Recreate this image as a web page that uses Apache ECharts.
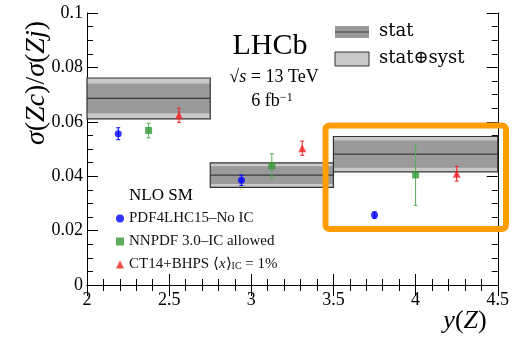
<!DOCTYPE html>
<html><head><meta charset="utf-8">
<script src="https://cdn.jsdelivr.net/npm/echarts@6/dist/echarts.min.js"></script>
<style>html,body{margin:0;padding:0;background:#fff}#c{width:512px;height:338px}</style>
</head><body><div id="c"></div>
<script>
// Measured ratio bins
const binLo = [2.0, 2.75, 3.5];
const binHi = [2.75, 3.5, 4.5];
const central = [0.0686, 0.0404, 0.0481];
const statErr = [0.0055, 0.0033, 0.0050];
const totErr = [0.0075, 0.0045, 0.0065];

// NLO SM predictions
const modelNames = ['PDF4LHC15–No IC', 'NNPDF 3.0–IC allowed', 'CT14+BHPS'];
const pdfX = [2.19, 2.94, 3.75];
const pdfY = [0.0556, 0.0385, 0.0257];
const pdfE = [0.0022, 0.0019, 0.0012];
const nnX = [2.375, 3.125, 4.0];
const nnY = [0.0568, 0.0438, 0.0405];
const nnE = [0.0027, 0.0044, 0.0112];
const ctX = [2.56, 3.31, 4.25];
const ctY = [0.0624, 0.0503, 0.0409];
const ctE = [0.0026, 0.0026, 0.0027];

const xTicks = [2, 2.5, 3, 3.5, 4, 4.5];
const yTicks = [0, 0.02, 0.04, 0.06, 0.08, 0.1];

const SERIF = 'Liberation Serif';
const chart = echarts.init(document.getElementById('c'), null, {renderer: 'canvas'});

function boxItem(params, api) {
  const lo = api.value(0), hi = api.value(1), c = api.value(2), s = api.value(3), t = api.value(4);
  const p1 = api.coord([lo, c + t]), p2 = api.coord([hi, c - t]);
  const q1 = api.coord([lo, c + s]), q2 = api.coord([hi, c - s]);
  const m1 = api.coord([lo, c]), m2 = api.coord([hi, c]);
  return {type: 'group', children: [
    {type: 'rect', shape: {x: p1[0], y: p1[1], width: p2[0] - p1[0], height: p2[1] - p1[1]}, style: {fill: '#c9c9c9', stroke: null}},
    {type: 'rect', shape: {x: q1[0], y: q1[1], width: q2[0] - q1[0], height: q2[1] - q1[1]}, style: {fill: '#9a9a9a', stroke: null}},
    {type: 'line', shape: {x1: m1[0], y1: m1[1], x2: m2[0], y2: m2[1]}, style: {stroke: '#3a3a3a', lineWidth: 1.2}},
    {type: 'rect', shape: {x: p1[0], y: p1[1], width: p2[0] - p1[0], height: p2[1] - p1[1]}, style: {fill: 'none', stroke: '#333', lineWidth: 1.2}}
  ]};
}
function errItem(color) {
  return function (params, api) {
    const x = api.value(0), y = api.value(1), e = api.value(2);
    const a = api.coord([x, y + e]), b = api.coord([x, y - e]);
    return {type: 'group', children: [
      {type: 'line', shape: {x1: a[0], y1: a[1], x2: b[0], y2: b[1]}, style: {stroke: color, lineWidth: 1}},
      {type: 'line', shape: {x1: a[0] - 2, y1: a[1], x2: a[0] + 2, y2: a[1]}, style: {stroke: color, lineWidth: 1}},
      {type: 'line', shape: {x1: b[0] - 2, y1: b[1], x2: b[0] + 2, y2: b[1]}, style: {stroke: color, lineWidth: 1}}
    ]};
  };
}
const zip3 = (a, b, c) => a.map((v, i) => [v, b[i], c[i]]);

const axisLine = {show: true, lineStyle: {color: '#000', width: 1}};
const axisTick = {show: true, inside: true, length: 11, lineStyle: {color: '#000', width: 1}};

const colors = ['#0000ff', '#339933', '#ee2222'];

chart.setOption({
  animation: false,
  grid: {left: 87, right: 11, top: 13, bottom: 53, containLabel: false},
  xAxis: [
    {type: 'value', min: 2, max: 4.5, interval: 0.5, position: 'bottom',
      axisLine: axisLine, axisTick: axisTick, splitLine: {show: false},
      minorTick: {show: true, splitNumber: 5, length: 6, lineStyle: {color: '#000'}},
      axisLabel: {show: true, margin: 6, color: '#000', fontFamily: SERIF, fontSize: 18,
        formatter: v => xTicks.indexOf(+v.toFixed(2)) >= 0 ? String(+v.toFixed(2)) : ''}},
    {type: 'value', min: 2, max: 4.5, interval: 0.5, position: 'top',
      axisLine: axisLine, axisTick: axisTick, splitLine: {show: false},
      minorTick: {show: true, splitNumber: 5, length: 6, lineStyle: {color: '#000'}},
      axisLabel: {show: false}}
  ],
  yAxis: [
    {type: 'value', min: 0, max: 0.1, interval: 0.02, position: 'left',
      axisLine: axisLine, axisTick: axisTick, splitLine: {show: false},
      minorTick: {show: true, splitNumber: 4, length: 6, lineStyle: {color: '#000'}},
      axisLabel: {show: true, margin: 4, color: '#000', fontFamily: SERIF, fontSize: 18,
        formatter: v => {const r = +v.toFixed(3); return yTicks.indexOf(r) >= 0 ? String(r) : '';}}},
    {type: 'value', min: 0, max: 0.1, interval: 0.02, position: 'right',
      axisLine: axisLine, axisTick: axisTick, splitLine: {show: false},
      minorTick: {show: true, splitNumber: 4, length: 6, lineStyle: {color: '#000'}},
      axisLabel: {show: false}}
  ],
  legend: {
    data: modelNames,
    orient: 'vertical', left: 111, top: 206, itemGap: 8, itemWidth: 8, itemHeight: 8,
    textStyle: {fontFamily: SERIF, fontSize: 15, color: '#111', lineHeight: 14,
      rich: {
        n: {fontFamily: SERIF, fontSize: 15, color: '#111'},
        i: {fontFamily: SERIF, fontSize: 15, fontStyle: 'italic', color: '#111'},
        s: {fontFamily: SERIF, fontSize: 10, color: '#111', verticalAlign: 'bottom', padding: [6, 0, 0, 0]}
      }},
    formatter: name => name === 'CT14+BHPS' ? '{n|CT14+BHPS ⟨}{i|x}{n|⟩}{s|IC}{n| = 1%}' : name,
    selectedMode: false
  },
  series: [
    {type: 'custom', name: 'boxes', renderItem: boxItem, encode: {x: [0, 1], y: [2]}, z: 1,
      data: binLo.map((lo, i) => [lo, binHi[i], central[i], statErr[i], totErr[i]])},
    {type: 'custom', name: 'e0', renderItem: errItem(colors[0]), encode: {x: 0, y: 1}, z: 3, data: zip3(pdfX, pdfY, pdfE)},
    {type: 'custom', name: 'e1', renderItem: errItem('#55aa55'), encode: {x: 0, y: 1}, z: 3, data: zip3(nnX, nnY, nnE)},
    {type: 'custom', name: 'e2', renderItem: errItem(colors[2]), encode: {x: 0, y: 1}, z: 3, data: zip3(ctX, ctY, ctE)},
    {type: 'scatter', name: modelNames[0], symbol: 'circle', symbolSize: 7, itemStyle: {color: colors[0]}, z: 4,
      data: pdfX.map((x, i) => [x, pdfY[i]])},
    {type: 'scatter', name: modelNames[1], symbol: 'rect', symbolSize: 7, itemStyle: {color: colors[1]}, z: 4,
      data: nnX.map((x, i) => [x, nnY[i]])},
    {type: 'scatter', name: modelNames[2], symbol: 'triangle', symbolSize: 8, itemStyle: {color: colors[2]}, z: 4,
      data: ctX.map((x, i) => [x, ctY[i]])}
  ],
  graphic: [
    {type: 'text', x: 37, y: 83, rotation: Math.PI / 2, z: 10,
      style: {text: '{i|σ}{r|(}{i|Zc}{r|)/}{i|σ}{r|(}{i|Zj}{r|)}', align: 'center', verticalAlign: 'middle',
        rich: {i: {fontFamily: SERIF, fontStyle: 'italic', fontSize: 28, fill: '#000'},
               r: {fontFamily: SERIF, fontSize: 28, fill: '#000'}}}},
    {type: 'text', x: 465, y: 321, z: 10,
      style: {text: '{i|y}{r|(}{i|Z}{r|)}', align: 'center', verticalAlign: 'middle',
        rich: {i: {fontFamily: SERIF, fontStyle: 'italic', fontSize: 26, fill: '#000'},
               r: {fontFamily: SERIF, fontSize: 26, fill: '#000'}}}},
    {type: 'text', x: 270, y: 46, z: 10,
      style: {text: 'LHCb', align: 'center', verticalAlign: 'middle', font: '30px "Liberation Serif"', fill: '#000'}},
    {type: 'text', x: 274, y: 77, z: 10,
      style: {text: '{n|√}{i|s}{n| = 13 TeV}', align: 'center', verticalAlign: 'middle',
        rich: {n: {fontFamily: SERIF, fontSize: 18, fill: '#000'}, i: {fontFamily: SERIF, fontStyle: 'italic', fontSize: 18, fill: '#000'}}}},
    {type: 'text', x: 272, y: 101, z: 10,
      style: {text: '{n|6 fb}{s|−1}', align: 'center', verticalAlign: 'middle',
        rich: {n: {fontFamily: SERIF, fontSize: 18, fill: '#000'}, s: {fontFamily: SERIF, fontSize: 12, fill: '#000', verticalAlign: 'top', padding: [0, 0, 7, 0]}}}},
    {type: 'text', x: 129, y: 196, z: 10,
      style: {text: 'NLO SM', align: 'left', verticalAlign: 'middle', font: '17px "Liberation Serif"', fill: '#000'}},
    // stat legend
    {type: 'rect', z: 10, shape: {x: 335, y: 26, width: 34, height: 12}, style: {fill: '#9a9a9a', stroke: null}},
    {type: 'line', z: 11, shape: {x1: 335, y1: 32, x2: 369, y2: 32}, style: {stroke: '#3a3a3a', lineWidth: 1.2}},
    {type: 'text', x: 379, y: 31, z: 10,
      style: {text: 'stat', align: 'left', verticalAlign: 'middle', font: '18px "DejaVu Serif"', fill: '#000'}},
    {type: 'rect', z: 10, shape: {x: 335, y: 52, width: 34, height: 14}, style: {fill: '#c9c9c9', stroke: '#333', lineWidth: 1}},
    {type: 'text', x: 379, y: 58, z: 10,
      style: {text: 'stat⊕syst', align: 'left', verticalAlign: 'middle', font: '18px "DejaVu Serif"', fill: '#000'}},
    // highlight frame
    {type: 'rect', z: 20, shape: {x: 325.5, y: 125.5, width: 180.5, height: 103.5, r: 4},
      style: {fill: 'none', stroke: '#ff9c00', lineWidth: 6}}
  ]
});
</script></body></html>
